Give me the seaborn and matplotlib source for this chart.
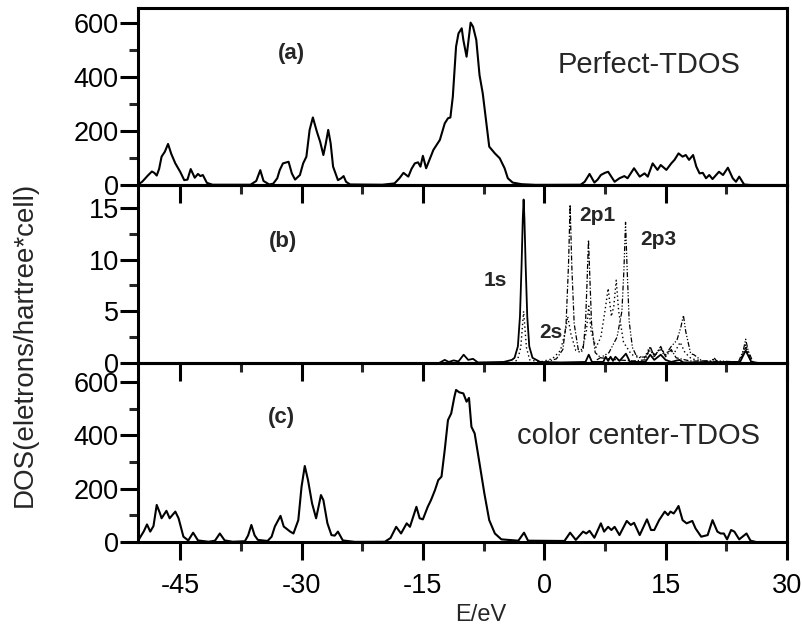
import matplotlib
matplotlib.use("Agg")
import matplotlib.pyplot as plt
import seaborn as sns

# ---- data ----
# (a) perfect crystal TDOS
e_perfect = [-50.2, -49.7, -49.0, -48.5, -48.2, -47.9, -47.6, -47.3, -46.9, -46.5, -46.1, -45.6, -45.0,
             -44.5, -44.1, -43.7, -43.2, -42.8, -42.5, -42.2, -41.7, -41.0, -36.3, -35.6, -35.1, -34.7,
             -34.0, -33.5, -33.0, -32.7, -32.3, -31.6, -31.2, -30.8, -30.2, -29.8, -29.4, -29.0, -28.6,
             -28.1, -27.7, -27.3, -27.0, -26.7, -26.4, -26.1, -25.5, -25.1, -24.8, -24.5, -24.0, -20.0,
             -18.5, -17.9, -17.4, -16.8, -16.4, -16.0, -15.6, -15.3, -15.0, -14.6, -13.7, -12.9, -12.3,
             -11.9, -11.6, -11.3, -10.9, -10.6, -10.2, -10.0, -9.6, -9.3, -9.1, -8.8, -8.4, -8.0, -7.6,
             -7.2, -6.8, -6.1, -5.5, -4.9, -4.5, -3.9, -2.8, -1.1, 4.5, 5.0, 5.6, 6.2, 6.6, 7.0, 7.5,
             7.9, 8.7, 9.3, 9.9, 10.3, 11.1, 11.8, 12.4, 12.8, 13.4, 14.0, 14.4, 15.1, 15.7, 16.1, 16.6,
             17.1, 17.5, 17.9, 18.4, 18.8, 19.2, 19.6, 20.0, 20.4, 20.8, 21.6, 22.1, 22.7, 23.3, 23.7,
             24.1, 24.7, 25.5, 30.0]
dos_perfect = [2, 12, 35, 50, 45, 35, 60, 105, 123, 152, 115, 80, 49,
               18, 20, 59, 27, 41, 33, 37, 8, 1, 1, 15, 55, 15,
               2, 5, 25, 55, 80, 86, 43, 20, 37, 80, 105, 204, 250,
               197, 160, 111, 154, 204, 154, 68, 18, 25, 33, 12, 2, 1,
               6, 25, 45, 31, 60, 80, 84, 68, 108, 62, 130, 167, 228,
               247, 250, 327, 512, 561, 580, 537, 475, 549, 601, 586, 537, 407, 339,
               241, 142, 117, 99, 62, 25, 9, 3, 0.5, 1, 12, 41, 9, 20, 37, 45,
               49, 12, 25, 33, 25, 62, 31, 43, 31, 80, 56, 74, 56, 80, 93, 117,
               105, 111, 93, 111, 68, 43, 45, 25, 37, 22, 49, 37, 64, 25, 12,
               31, 2, 0, 0]

# (b) partial DOS of the color center
e_1s = [-13.0, -12.3, -11.8, -11.2, -10.6, -9.96, -9.4, -8.8, -8.2, -5.0, -4.0, -3.67, -3.26, -3.0,
        -2.8, -2.65, -2.55, -2.45, -2.3, -2.1, -1.85, -1.45, -0.5, 2.0, 5.1, 5.5, 5.9, 7.3, 7.6, 7.9,
        8.2, 8.5, 8.8, 9.3, 10.1, 10.6, 12.5, 13.1, 13.6, 14.4, 15.0, 15.7, 16.7, 17.2, 24.2, 24.9,
        25.6, 26.5]
dos_1s = [0, 0.3, 0.1, 0.25, 0.15, 0.8, 0.3, 0.4, 0.05, 0.1, 0.3, 0.5, 1.6, 4.5,
          9.5, 14.0, 15.8, 14.0, 9.5, 4.5, 1.6, 0.5, 0.1, 0.05, 0.1, 0.8, 0.1, 0.1, 0.6, 0.2,
          0.6, 0.2, 0.6, 0.2, 0.9, 0.1, 0.1, 0.8, 0.3, 0.8, 0.3, 0.1, 0.3, 0.05, 0.1, 1.2,
          0.1, 0]

e_2s = [-4.0, -3.3, -2.9, -2.7, -2.55, -2.4, -2.2, -1.8, -0.5, 1.0, 2.0, 2.6, 2.9, 3.3, 3.9, 4.6,
        5.2, 5.5, 5.8, 6.4, 7.0, 7.5, 7.9, 8.3, 8.6, 8.9, 9.2, 9.8, 10.8, 12.4, 13.0, 13.6, 14.3,
        14.9, 15.5, 16.1, 16.8, 17.4, 18.2, 19.5, 20.7, 21.0, 21.4, 24.2, 24.9, 25.6, 26.5]
dos_2s = [0, 0.3, 1.5, 3.5, 5.0, 3.5, 1.5, 0.3, 0.1, 0.4, 1.2, 3.0, 4.5, 2.8, 1.2, 1.0,
          3.0, 5.5, 3.0, 1.5, 2.5, 5.0, 7.2, 4.5, 5.5, 8.0, 5.0, 2.0, 0.8, 0.5, 1.5, 0.6, 1.4,
          0.7, 1.2, 1.0, 2.0, 1.0, 0.4, 0.2, 0.1, 0.4, 0.1, 0.1, 1.8, 0.1, 0]

e_2p1 = [0.0, 1.5, 2.3, 2.7, 3.0, 3.2, 3.4, 3.7, 4.2, 4.8, 5.1, 5.3, 5.47, 5.65, 5.85, 6.3, 7.0,
         8.0, 9.0, 11.0, 12.5, 13.1, 13.6, 14.4, 15.0, 15.7, 16.3, 18.0, 24.2, 24.9, 25.6, 26.5]
dos_2p1 = [0.05, 0.4, 1.3, 3.8, 9.5, 15.3, 9.5, 3.8, 1.3, 1.3, 3.8, 8.0, 11.9, 8.0, 3.8, 1.0, 0.5,
           0.4, 0.3, 0.2, 0.3, 1.6, 0.6, 1.6, 0.6, 1.3, 0.5, 0.2, 0.1, 1.5, 0.1, 0]

e_2p3 = [6.5, 8.0, 9.0, 9.6, 9.85, 10.05, 10.25, 10.5, 10.9, 11.5, 12.5, 13.1, 13.7, 14.4, 15.0,
         15.7, 16.4, 16.9, 17.2, 17.5, 18.1, 18.5, 19.5, 20.7, 21.0, 21.3, 24.0, 24.6, 24.9, 25.2,
         25.8]
dos_2p3 = [0.3, 1.0, 2.5, 5.0, 9.0, 13.6, 9.0, 4.0, 1.5, 0.5, 0.6, 1.2, 0.8, 1.4, 0.8,
           1.6, 2.2, 3.5, 4.6, 3.0, 0.9, 0.8, 0.2, 0.2, 0.5, 0.2, 0.1, 1.2, 2.3, 1.2,
           0.1]

# (c) color center TDOS
e_center = [-50.2, -49.5, -49.1, -48.7, -48.3, -47.9, -47.5, -47.3, -46.7, -46.3, -45.6, -45.2, -44.6,
            -44.0, -43.4, -42.8, -41.5, -40.7, -40.1, -39.5, -38.5, -37.0, -36.6, -36.2, -35.8, -35.4,
            -34.2, -33.7, -33.3, -32.6, -32.2, -31.9, -31.4, -31.0, -30.4, -30.0, -29.6, -29.2, -28.7,
            -28.2, -27.9, -27.6, -27.3, -26.8, -26.3, -25.9, -25.5, -24.9, -23.4, -19.7, -19.0, -18.3,
            -17.7, -17.0, -16.6, -15.8, -15.4, -15.0, -14.4, -14.0, -13.5, -13.1, -12.7, -12.3, -11.9,
            -11.5, -11.1, -10.9, -10.5, -10.0, -9.6, -9.3, -9.0, -8.6, -8.0, -7.4, -6.8, -6.1, -5.3,
            -3.2, -2.5, -2.0, 2.5, 3.2, 3.9, 4.8, 5.2, 5.6, 6.2, 7.0, 7.4, 7.9, 8.3, 8.7, 9.3, 10.2,
            10.7, 11.1, 11.8, 12.7, 13.2, 13.6, 14.2, 14.9, 15.3, 15.6, 16.0, 16.3, 16.6, 17.1, 17.6,
            18.3, 18.7, 19.4, 20.2, 20.8, 21.4, 21.8, 22.2, 22.6, 23.1, 23.5, 24.1, 25.0, 25.5, 26.2,
            30.0]
dos_center = [5, 40, 66, 39, 60, 139, 108, 89, 117, 89, 114, 89, 20,
              6, 35, 6, 1, 5, 32, 6, 1, 3, 25, 64, 25, 8,
              4, 20, 58, 98, 58, 51, 39, 32, 82, 207, 285, 232, 145,
              89, 132, 176, 157, 70, 26, 24, 39, 6, 0.5, 1, 15, 57,
              32, 70, 57, 132, 89, 85, 132, 157, 195, 232, 245, 345, 457,
              482, 545, 570, 561, 557, 526, 540, 432, 407, 295, 182, 82, 32, 10,
              5, 35, 5, 4, 35, 8, 39, 32, 42, 16, 70, 39, 57, 45, 57, 26, 79,
              64, 72, 26, 85, 45, 45, 82, 114, 101, 114, 107, 120, 135, 82, 70,
              79, 51, 20, 26, 82, 39, 32, 32, 10, 45, 39, 10, 32, 5, 0,
              0]

xticks = [-45, -30, -15, 0, 15, 30]

sns.set_style("ticks")
plt.rcParams['font.family'] = ['Liberation Sans', 'DejaVu Sans']
plt.rcParams['axes.unicode_minus'] = False

fig = plt.figure(figsize=(8.03, 6.28), dpi=100)
left, width = 0.172, 0.808
ax_a = fig.add_axes([left, 0.7054, width, 0.2818])
ax_b = fig.add_axes([left, 0.4220, width, 0.2834])
ax_c = fig.add_axes([left, 0.1369, width, 0.2851])

lw_data = 1.5
sns.lineplot(x=e_perfect, y=dos_perfect, ax=ax_a, color='black', linewidth=lw_data, sort=False)
sns.lineplot(x=e_center, y=dos_center, ax=ax_c, color='black', linewidth=lw_data, sort=False)

sns.lineplot(x=e_1s, y=dos_1s, ax=ax_b, color='black', linewidth=1.3, sort=False)
sns.lineplot(x=e_2s, y=dos_2s, ax=ax_b, color='black', linewidth=1.0, sort=False,
             linestyle=(0, (1, 2)))
sns.lineplot(x=e_2p1, y=dos_2p1, ax=ax_b, color='black', linewidth=0.9, sort=False,
             linestyle=(0, (4, 1.5, 1, 1.5)))
sns.lineplot(x=e_2p3, y=dos_2p3, ax=ax_b, color='black', linewidth=0.9, sort=False,
             linestyle=(0, (4, 1.5, 1, 1.5, 1, 1.5)))

ax_a.set_ylim(0, 655)
ax_b.set_ylim(0, 17.2)
ax_c.set_ylim(0, 671)
ax_a.set_yticks([0, 200, 400, 600])
ax_a.set_yticks([100, 300, 500], minor=True)
ax_b.set_yticks([0, 5, 10, 15])
ax_b.set_yticks([2.5, 7.5, 12.5], minor=True)
ax_c.set_yticks([0, 200, 400, 600])
ax_c.set_yticks([100, 300, 500], minor=True)

for ax in (ax_a, ax_b, ax_c):
    ax.set_xlim(-50.2, 30)
    ax.set_xticks(xticks)
    ax.set_xticks([-37.5, -22.5, -7.5, 7.5, 22.5], minor=True)
    for sp in ax.spines.values():
        sp.set_visible(True)
        sp.set_linewidth(2.2)
        sp.set_color('black')
    ax.tick_params(axis='both', which='major', direction='out', width=2.2, length=13,
                   labelsize=19.5, colors='black', pad=1)
    ax.tick_params(axis='both', which='minor', direction='out', width=2.2, length=6.5)
    ax.tick_params(axis='x', which='both', top=False, bottom=True)
    ax.tick_params(axis='y', which='both', left=True, right=False)
    ax.set_xlabel('')
    ax.set_ylabel('')
    ax.patch.set_alpha(0)

ax_a.tick_params(axis='x', labelbottom=False)
ax_b.tick_params(axis='x', labelbottom=False)
ax_c.tick_params(axis='x', which='major', pad=9)

# panel annotations
ax_a.text(-31.3, 488, '(a)', fontsize=16, fontweight='bold', ha='center', va='center')
ax_a.text(12.9, 444, 'Perfect-TDOS', fontsize=21, ha='center', va='center')
ax_b.text(-32.3, 11.7, '(b)', fontsize=16, fontweight='bold', ha='center', va='center')
ax_b.text(-6.1, 8.0, '1s', fontsize=15, fontweight='bold', ha='center', va='center')
ax_b.text(0.8, 2.9, '2s', fontsize=15, fontweight='bold', ha='center', va='center')
ax_b.text(6.6, 14.3, '2p1', fontsize=15, fontweight='bold', ha='center', va='center')
ax_b.text(14.05, 11.9, '2p3', fontsize=15, fontweight='bold', ha='center', va='center')
ax_c.text(-32.5, 465, '(c)', fontsize=16, fontweight='bold', ha='center', va='center')
ax_c.text(11.7, 397, 'color center-TDOS', fontsize=21, ha='center', va='center')

fig.text(25 / 803, 1 - 344 / 628, 'DOS(eletrons/hartree*cell)', rotation=90,
         fontsize=20, ha='center', va='center')
fig.text(481 / 803, 1 - 615 / 628, 'E/eV', fontsize=17, ha='center', va='center')

fig.savefig('out.png', dpi=100)
